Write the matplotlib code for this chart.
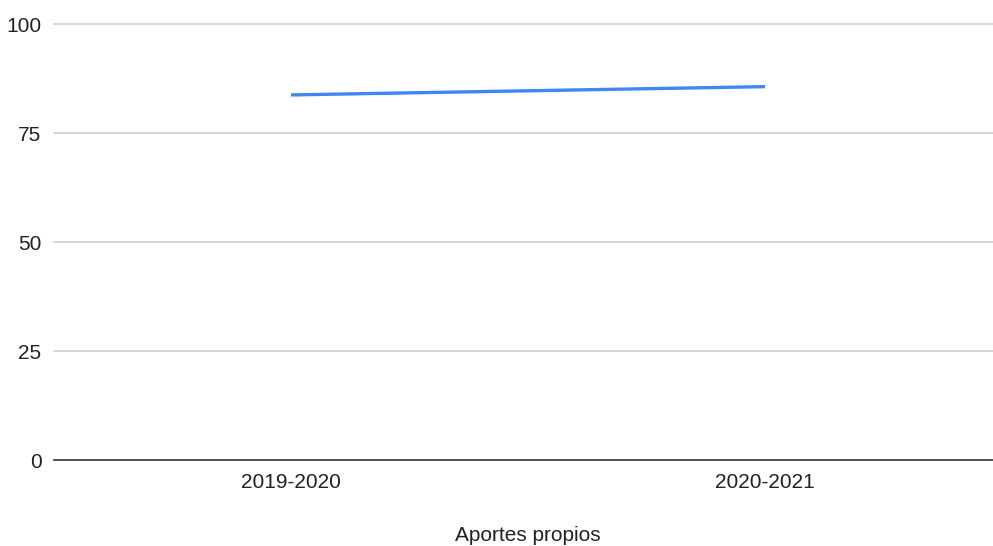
import matplotlib
matplotlib.use("Agg")
import matplotlib.pyplot as plt

categories = ["2019-2020", "2020-2021"]
values = [83.8, 85.7]
yticks = [0, 25, 50, 75, 100]

plt.rcParams['font.family'] = ['Liberation Sans', 'DejaVu Sans']

fig = plt.figure(figsize=(9.93, 5.46), dpi=100)
# axes runs a bit past the right edge, like the original
ax = fig.add_axes([54 / 993, 85.7 / 546, (1002 - 54) / 993, (460.3 - 24.3) / 546])

x = list(range(len(categories)))
ax.plot(x, values, color="#4285F4", linewidth=2.4, solid_capstyle="butt", zorder=3)

ax.set_xlim(-0.5, len(categories) - 0.5)
ax.set_ylim(0, 100)
ax.set_yticks(yticks)
ax.set_xticks(x)
ax.set_xticklabels(categories)

for t in yticks[1:]:
    ax.axhline(t, color="#cccccc", linewidth=1.1, zorder=1, clip_on=False)
ax.axhline(0, color="#333333", linewidth=1.2, zorder=2, clip_on=False)

for s in ax.spines.values():
    s.set_visible(False)
ax.tick_params(axis="both", length=0, labelsize=15, colors="#222222")
ax.tick_params(axis="y", pad=9)
ax.tick_params(axis="x", pad=9.5)
ax.set_xlabel("Aportes propios", fontsize=15, color="#222222", labelpad=24)

fig.savefig("out.png", dpi=100)
